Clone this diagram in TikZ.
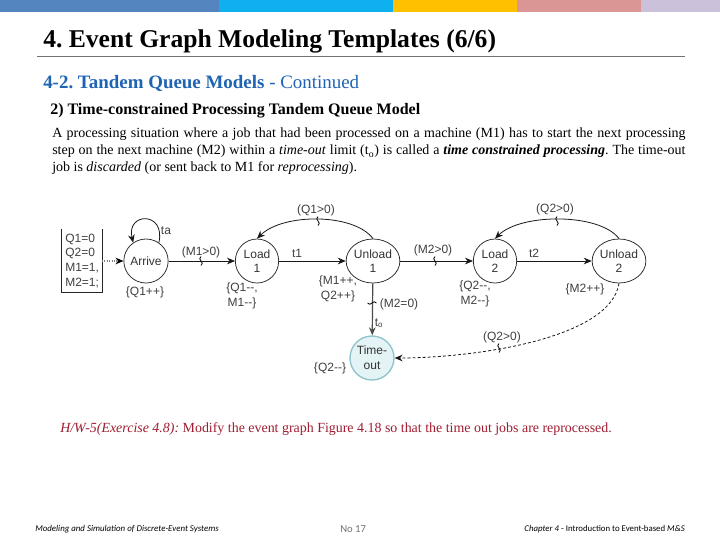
\documentclass[tikz,border=0pt]{standalone}
\usepackage{fontspec}
\usetikzlibrary{arrows.meta,shapes.geometric}
\setmainfont{Liberation Serif}
\setsansfont{Liberation Sans}
\newfontfamily\footfont{Carlito}
\frenchspacing
\definecolor{barA}{HTML}{5585BE}
\definecolor{barB}{HTML}{0FB0EE}
\definecolor{barC}{HTML}{FFC000}
\definecolor{barD}{HTML}{D99694}
\definecolor{barE}{HTML}{CCC1DA}
\definecolor{secblue}{HTML}{1F64B4}
\definecolor{hwred}{HTML}{A01C30}
\definecolor{tofill}{HTML}{E4F3F6}
\definecolor{toline}{HTML}{8FC4CC}
\tikzset{
  evt/.style={draw=black!85,line width=.55pt,ellipse,inner sep=0pt,minimum width=32.5pt,minimum height=33pt,align=center,font=\sffamily\fontsize{9}{11}\selectfont,text=black!80},
  lbl/.style={font=\sffamily\fontsize{9}{11.2}\selectfont,text=black!75,align=center,inner sep=0pt},
  edge/.style={draw=black!90,line width=.6pt,-{Stealth[length=6pt,width=5pt]}},
  txt/.style={anchor=west,inner sep=0pt},
  wig/.pic={\draw[black,line width=.6pt] (0,-4.5) .. controls (-4.5,-1.5) and (4.5,1.5) .. (0,4.5);}
}
\begin{document}
\begin{tikzpicture}[x=.75pt,y=-.75pt]
\useasboundingbox (0,0) rectangle (720,540);
\fill[white] (0,0) rectangle (720,540);
\fill[barA] (0,0) rectangle (219,12);
\fill[barB] (219,0) rectangle (393,12);
\fill[barC] (393,0) rectangle (517,12);
\fill[barD] (517,0) rectangle (641,12);
\fill[barE] (641,0) rectangle (720,12);
\draw[black!55,line width=.6pt] (37,56.5) -- (685,56.5);
\node[txt] (title) at (43,41.5) {\fontsize{19.2}{22}\selectfont\bfseries 4. Event Graph Modeling Templates (6/6)};
\node[txt,text=secblue] (sec) at (43,83) {\fontsize{14.2}{17}\selectfont\textbf{4-2. Tandem Queue Models} - Continued};
\node[txt] (sub) at (50,111) {\fontsize{12}{14}\selectfont\bfseries 2) Time-constrained Processing Tandem Queue Model};
\node[txt] (p1) at (52,134.5) {\fontsize{10.5}{12}\selectfont\makebox[475pt][s]{A processing situation where a job that had been processed on a machine (M1) has to start the next processing}};
\node[txt] (p2) at (52,151.5) {\fontsize{10.5}{12}\selectfont\makebox[475pt][s]{step on the next machine (M2) within a \textit{time-out} limit (t\textsubscript{o}) is called a \textbf{\textit{time constrained processing}}. The time-out}};
\node[txt] (p3) at (52,168.5) {\fontsize{10.5}{12}\selectfont job is \textit{discarded} (or sent back to M1 for \textit{reprocessing}).};

% box
\draw[black!85,line width=.6pt] (61,229) -- (61,292) -- (102,292) -- (102,229);
\node[lbl,anchor=west] (q1) at (65,239) {Q1=0};
\node[lbl,anchor=west] (q2) at (65,253) {Q2=0};
\node[lbl,anchor=west] (m1) at (65,268) {M1=1,};
\node[lbl,anchor=west] (m2) at (65,283) {M2=1;};
\coordinate (boxr) at (102,261);

% events
\node[evt] (arr) at (146,261) {Arrive};
\node[evt] (l1) at (257,261) {Load\\1};
\node[evt,minimum width=39pt] (u1) at (373,261) {Unload\\1};
\node[evt] (l2) at (495,261) {Load\\2};
\node[evt,minimum width=37.5pt] (u2) at (619,261) {Unload\\2};
\node[evt,minimum width=33pt,fill=tofill,draw=toline,line width=1pt] (to) at (372,358) {Time-\\out};

% edges
\draw[gray,densely dotted,line width=.8pt,-{Stealth[length=6pt,width=5pt,color=black]}] (boxr) -- (arr);
\draw[edge] (arr) -- (l1);
\draw[edge] (l1) -- (u1);
\draw[edge] (u1) -- (l2);
\draw[edge] (l2) -- (u2);
\draw[edge,line width=.9pt,black!70] (u1) -- (to);
\draw[edge] (arr.55) .. controls (166,211) and (126,212) .. (arr.125);
\draw[edge] (u1.90) .. controls (354,213) and (283,213) .. (l1.90);
\draw[edge] (u2.90) .. controls (600,213) and (521,213) .. (l2.90);
\draw[edge,dash pattern=on 2.2pt off 1.6pt] (u2.south) .. controls (610,340) and (470,358) .. (to.east);

% wiggles
\pic at (201,261) {wig};
\pic at (435,261) {wig};
\pic at (318,221) {wig};
\pic at (557,221) {wig};
\pic at (499,348) {wig};
\pic[rotate=90] at (372,303) {wig};

% labels
\node[lbl] (lta) at (166,231) {ta};
\node[lbl] (la) at (201,252) {(M1>0)};
\node[lbl] (lb) at (145,292) {\{Q1++\}};
\node[lbl] (lc) at (242,296) {\{Q1-{}-,\\M1-{}-\}};
\node[lbl] (ld) at (297,253) {t1};
\node[lbl] (le) at (338,289) {\{M1++,\\Q2++\}};
\node[lbl] (lf) at (316,210) {(Q1>0)};
\node[lbl] (lg) at (433,250) {(M2>0)};
\node[lbl] (lh) at (555,209) {(Q2>0)};
\node[lbl] (li) at (534,253) {t2};
\node[lbl] (lj) at (475,294) {\{Q2-{}-,\\M2-{}-\}};
\node[lbl] (lk) at (585,289) {\{M2++\}};
\node[lbl] (ll) at (399,304) {(M2=0)};
\node[lbl] (lm) at (379,323) {t\textsubscript{o}};
\node[lbl] (ln) at (502,337) {(Q2>0)};
\node[lbl] (lo) at (330,368) {\{Q2-{}-\}};

\node[txt,text=hwred] (hw) at (60,429.5) {\fontsize{10.45}{12}\selectfont\textit{H/W-5(Exercise 4.8):} Modify the event graph Figure 4.18 so that the time out jobs are reprocessed.};
\node[txt] (f1) at (35,529) {\footfont\fontsize{6.65}{8}\selectfont\textit{Modeling and Simulation of Discrete-Event Systems}};
\node[txt,text=black!55] (f2) at (340,529) {\footfont\fontsize{8}{9}\selectfont No 17};
\node[anchor=east,inner sep=0pt] (f3) at (685,529) {\footfont\fontsize{6.6}{8}\selectfont\textit{Chapter 4} - Introduction to Event-based \textit{M\&S}};
\end{tikzpicture}
\end{document}
